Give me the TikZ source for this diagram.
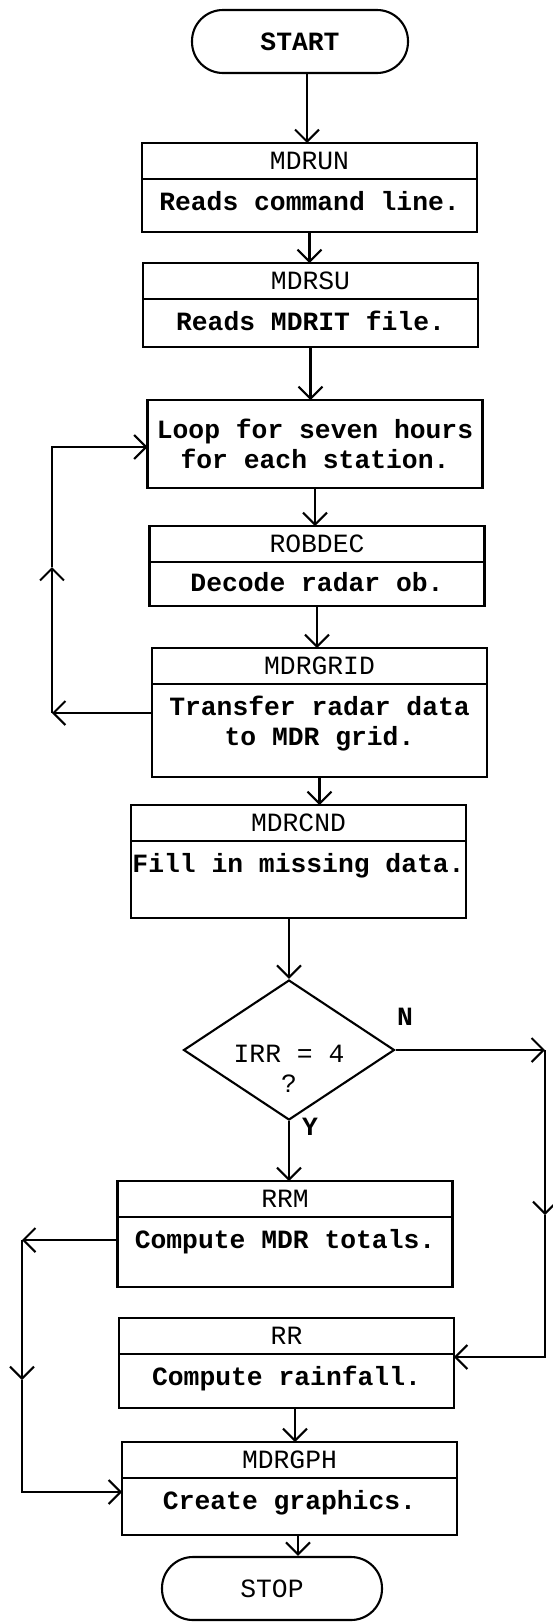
\documentclass[tikz,border=0pt]{standalone}
\usepackage{fontspec}
\setmonofont{Liberation Mono}
\usetikzlibrary{positioning,shapes.geometric,arrows.meta}

\begin{document}
\begin{tikzpicture}[
        x=0.02cm, y=-0.02cm,
        every node/.style={font=\ttfamily\fontsize{15}{17}\selectfont},
        head/.style={rectangle, draw, line width=1.2pt, outer sep=0pt, anchor=north, minimum width=6.7cm, minimum height=0.72cm, inner sep=0pt},
        bodybox/.style={rectangle, draw, line width=1.2pt, outer sep=0pt, minimum width=6.7cm, inner sep=0pt},
        bodytext/.style={anchor=north, align=center, inner sep=0pt, font=\ttfamily\bfseries\fontsize{15}{17}\selectfont},
        terminal/.style={rectangle, draw, line width=1.2pt, rounded corners=0.62cm, minimum width=4.32cm, minimum height=1.26cm},
        decision/.style={diamond, draw, line width=1.2pt, minimum width=4.22cm, minimum height=2.8cm, inner sep=0pt},
        arrow/.style={-{Straight Barb[length=0.24cm,width=0.48cm]}, line width=1.2pt}
    ]
        \useasboundingbox (0,0) rectangle (553,1623);

        % Start
        \node[terminal, font=\ttfamily\bfseries\fontsize{15}{17}\selectfont] (start) at (300,41.5) {START};

        % MDRUN
        \node[head] (mdrun) at (309.5,143) {MDRUN};
        \node[bodybox, minimum height=1.06cm, below=0pt of mdrun] (mdrunb) {};
        \node[bodytext] (mdruntx) at ([yshift=-0.24cm]mdrunb.north) {Reads command line.};

        % MDRSU
        \node[head] (mdrsu) at (310.5,263) {MDRSU};
        \node[bodybox, minimum height=0.96cm, below=0pt of mdrsu] (mdrsub) {};
        \node[bodytext] (mdrsutx) at ([yshift=-0.24cm]mdrsub.north) {Reads MDRIT file.};

        % Station loop
        \node[bodybox, minimum height=1.76cm, align=center, font=\ttfamily\bfseries\fontsize{15}{17}\selectfont] (loop) at (315,444) {Loop for seven hours\\for each station.};

        % ROBDEC
        \node[head] (robdec) at (317,526) {ROBDEC};
        \node[bodybox, minimum height=0.88cm, below=0pt of robdec] (robdecb) {};
        \node[bodytext] (robdectx) at ([yshift=-0.2cm]robdecb.north) {Decode radar ob.};

        % MDRGRID
        \node[head] (mdrgrid) at (319.5,648) {MDRGRID};
        \node[bodybox, minimum height=1.86cm, below=0pt of mdrgrid] (mdrgridb) {};
        \node[bodytext] (mdrgridtx) at ([yshift=-0.24cm]mdrgridb.north) {Transfer radar data\\to MDR grid.};

        % MDRCND
        \node[head] (mdrcnd) at (298.5,805) {MDRCND};
        \node[bodybox, minimum height=1.54cm, below=0pt of mdrcnd] (mdrcndb) {};
        \node[bodytext] (mdrcndtx) at ([yshift=-0.24cm]mdrcndb.north) {Fill in missing data.};

        % Decision
        \node[decision] (irr) at (289,1050) {};
        \node[align=center] (irrtx) at (289,1069) {IRR = 4\\?};
        \node[font=\ttfamily\bfseries\fontsize{15}{17}\selectfont] (nlab) at (405,1017) {N};
        \node[font=\ttfamily\bfseries\fontsize{15}{17}\selectfont] (ylab) at (310,1127) {Y};

        % RRM
        \node[head] (rrm) at (285,1181) {RRM};
        \node[bodybox, minimum height=1.4cm, below=0pt of rrm] (rrmb) {};
        \node[bodytext] (rrmtx) at ([yshift=-0.24cm]rrmb.north) {Compute MDR totals.};

        % RR
        \node[head] (rr) at (286.5,1318) {RR};
        \node[bodybox, minimum height=1.08cm, below=0pt of rr] (rrb) {};
        \node[bodytext] (rrtx) at ([yshift=-0.24cm]rrb.north) {Compute rainfall.};

        % MDRGPH
        \node[head] (mdrgph) at (289.5,1442) {MDRGPH};
        \node[bodybox, minimum height=1.14cm, below=0pt of mdrgph] (mdrgphb) {};
        \node[bodytext] (mdrgphtx) at ([yshift=-0.24cm]mdrgphb.north) {Create graphics.};

        % Stop
        \node[terminal, minimum width=4.4cm] (stop) at (272,1588.5) {STOP};

        % Main flow
        \draw[arrow] ([xshift=-0.05cm]mdrun.north |- start.south) -- ([xshift=-0.05cm]mdrun.north);
        \draw[arrow] (mdrunb.south) -- (mdrunb.south |- mdrsu.north);
        \draw[arrow] (mdrsub.south) -- (mdrsub.south |- loop.north);
        \draw[arrow] (loop.south) -- (loop.south |- robdec.north);
        \draw[arrow] (robdecb.south) -- (robdecb.south |- mdrgrid.north);
        \draw[arrow] (mdrgridb.south) -- (mdrgridb.south |- mdrcnd.north);
        \draw[arrow] (irr.north |- mdrcndb.south) -- (irr.north);
        \draw[arrow] (irr.south) -- (irr.south |- rrm.north);
        \draw[arrow] ([xshift=0.17cm]rrb.south) -- ([xshift=0.17cm]rrb.south |- mdrgph.north);
        \draw[arrow] ([xshift=0.17cm]mdrgphb.south) -- ([xshift=0.17cm]mdrgphb.south |- stop.north);

        % Loop back to station loop
        \coordinate (lpa) at (52,713);
        \coordinate (lpm) at (52,567);
        \coordinate (lpb) at (52,447);
        \draw[arrow] (lpa -| mdrgridb.west) -- (lpa);
        \draw[arrow] (lpa) -- (lpm);
        \draw[arrow] (lpm) -- (lpb) -- (lpb -| loop.west);

        % N branch to RR
        \coordinate (na) at (545,1050);
        \coordinate (nm) at (545,1215);
        \coordinate (nb) at (545,1357);
        \draw[arrow] (irr.east) -- (na);
        \draw[arrow] (na) -- (nm);
        \draw[arrow] (nm) -- (nb) -- (nb -| rrb.east);

        % RRM branch to MDRGPH
        \coordinate (ra) at (22,1240);
        \coordinate (rm) at (22,1380);
        \coordinate (rb) at (22,1492);
        \draw[arrow] (ra -| rrmb.west) -- (ra);
        \draw[arrow] (ra) -- (rm);
        \draw[arrow] (rm) -- (rb) -- (rb -| mdrgphb.west);
    \end{tikzpicture}
\end{document}
